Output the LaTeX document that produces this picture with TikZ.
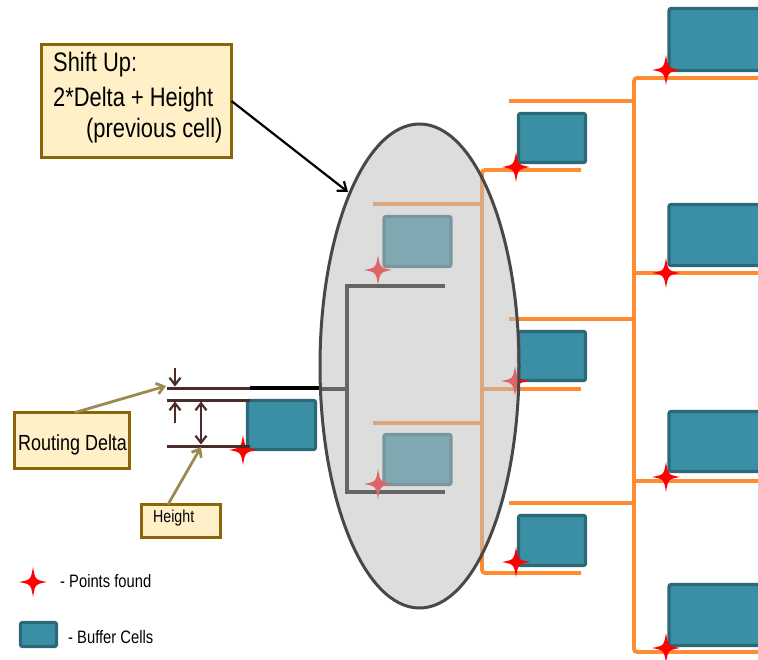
\documentclass[tikz,border=0pt]{standalone}
\usepackage{fontspec}
\newfontfamily\nar[FakeStretch=0.82]{Liberation Sans}
\usetikzlibrary{arrows.meta,shapes.geometric}
\definecolor{teal1}{HTML}{3A8FA5}
\definecolor{teal2}{HTML}{2B6878}
\definecolor{orng}{HTML}{FF8C33}
\definecolor{boxfill}{HTML}{FFF0C8}
\definecolor{boxedge}{HTML}{8B6508}
\definecolor{dimc}{HTML}{4A2C2A}
\definecolor{tanc}{HTML}{9C8A50}
\definecolor{ellc}{HTML}{C0C0C0}
\definecolor{elledge}{HTML}{484848}
\tikzset{fstar/.pic={\fill[red] (0,-15) .. controls (2.2,-2.2) .. (14,0) .. controls (2.2,2.2) .. (0,15) .. controls (-2.2,2.2) .. (-14,0) .. controls (-2.2,-2.2) .. cycle;}}
\begin{document}
\begin{tikzpicture}[x=1pt,y=-1pt,
  cell/.style={draw=teal2,fill=teal1,line width=3.2,rounded corners=2,inner sep=0,outer sep=0},
  wire/.style={draw=orng,line width=3.8},
  tree/.style={draw=black,line width=3.8},
  dimline/.style={draw=dimc,line width=3},
  dimarrow/.style={draw=dimc,line width=2.2,-{Straight Barb[length=7,width=11]}},
  dimboth/.style={draw=dimc,line width=2.2,{Straight Barb[length=7,width=11]}-{Straight Barb[length=7,width=11]}},
  tanarrow/.style={draw=tanc,line width=2.8,-{Straight Barb[length=7,width=11]}},
  note/.style={draw=boxedge,fill=boxfill,line width=3.5,inner sep=0,outer sep=0},
  lbl/.style={anchor=base west,inner sep=0,text=black}
]
\clip (0,0) rectangle (758,659);
\fill[white] (0,0) rectangle (758,659);

% right orange tree
\draw[wire,rounded corners=3] (758,78) -- (634,78) -- (634,652) -- (758,652);
\draw[wire] (634,273) -- (758,273);
\draw[wire] (634,481) -- (758,481);
\draw[wire] (509,101) -- (634,101);
\draw[wire] (509,319) -- (634,319);
\draw[wire] (509,503) -- (634,503);

% middle orange tree
\draw[wire,rounded corners=3] (581,170) -- (482,170) -- (482,573) -- (581,573);
\draw[wire] (482,389) -- (581,389);
\draw[wire] (373,204) -- (482,204);
\draw[wire] (373,423) -- (482,423);

% buffer cells
\node[cell,minimum width=67,minimum height=49] (ca) at (552,138) {};
\node[cell,minimum width=67,minimum height=49] (cb) at (552,356) {};
\node[cell,minimum width=67,minimum height=50] (cc) at (552,540.5) {};
\node[cell,minimum width=67,minimum height=50] (ci1) at (417.5,241.5) {};
\node[cell,minimum width=67,minimum height=50] (ci2) at (417.5,459.5) {};
\node[cell,minimum width=100,minimum height=62] (cd) at (719,39.5) {};
\node[cell,minimum width=100,minimum height=61] (ce) at (719,235) {};
\node[cell,minimum width=100,minimum height=60] (cf) at (719,441.5) {};
\node[cell,minimum width=100,minimum height=61] (cg) at (719,615) {};
\node[cell,minimum width=68,minimum height=49] (ch) at (281.5,425) {};

% black tree
\draw[tree] (445,286) -- (347,286) -- (347,492) -- (445,492);
\draw[tree] (320,389) -- (347,389);
\draw[draw=black,line width=4.5] (250,388) -- (322,388);

% stars
\pic at (516,167) {fstar};
\pic at (515,381) {fstar};
\pic at (516,562) {fstar};
\pic at (378,270) {fstar};
\pic at (378,484) {fstar};
\pic at (666,70) {fstar};
\pic at (666,273) {fstar};
\pic at (666,477) {fstar};
\pic at (666,648) {fstar};
\pic at (243,450) {fstar};

% transparent ellipse
\node[ellipse,minimum width=199,minimum height=484,inner sep=0,draw=elledge,line width=3,fill=ellc,fill opacity=0.53] (ell) at (419.5,366) {};

% dimension lines
\draw[dimline] (167,388) -- (250,388);
\draw[dimline] (167,400) -- (250,400);
\draw[dimline] (167,446) -- (250,446);
\coordinate (d1a) at (175,368);
\coordinate (d1b) at (175,386.5);
\coordinate (d2a) at (175,423);
\coordinate (d2b) at (175,401.5);
\coordinate (d3a) at (201,401.5);
\coordinate (d3b) at (201,444.5);
\draw[dimarrow] (d1a) -- (d1b);
\draw[dimarrow] (d2a) -- (d2b);
\draw[dimboth] (d3a) -- (d3b);

% notes
\node[note,minimum width=190,minimum height=113] (shiftbox) at (136.5,101) {};
\node[lbl,font=\nar\fontsize{26.7}{30}\selectfont] (t1) at (53,71) {Shift Up:};
\node[lbl,font=\nar\fontsize{26.7}{30}\selectfont] (t2) at (53,106) {2*Delta + Height};
\node[lbl,font=\nar\fontsize{26.7}{30}\selectfont] (t3) at (86,137) {(previous cell)};

\node[note,minimum width=115,minimum height=56] (rdbox) at (72,440.5) {};
\node[lbl,font=\nar\fontsize{21.9}{24}\selectfont] (rdtext) at (18,450) {Routing Delta};

\node[note,minimum width=79,minimum height=33] (hbox) at (181,521) {};
\node[lbl,font=\nar\fontsize{17.3}{20}\selectfont] (htext) at (153,522) {Height};

% note arrows
\coordinate (shtip) at (348,192);
\coordinate (rdtip) at (166,386);
\coordinate (htip) at (201,447);
\draw[draw=black,line width=2.2,-{Straight Barb[length=8,width=12]}] (shiftbox.east) -- (shtip);
\draw[tanarrow] ([xshift=3]rdbox.north) -- (rdtip);
\draw[tanarrow] ([xshift=-13]hbox.north) -- (htip);

% legend
\pic at (33,582) {fstar};
\node[lbl,font=\nar\fontsize{18}{20}\selectfont] (lg1) at (60,587) {- Points found};
\node[cell,minimum width=36,minimum height=24] (lgcell) at (38.5,634.5) {};
\node[lbl,font=\nar\fontsize{18}{20}\selectfont] (lg2) at (68,643) {- Buffer Cells};
\end{tikzpicture}
\end{document}
